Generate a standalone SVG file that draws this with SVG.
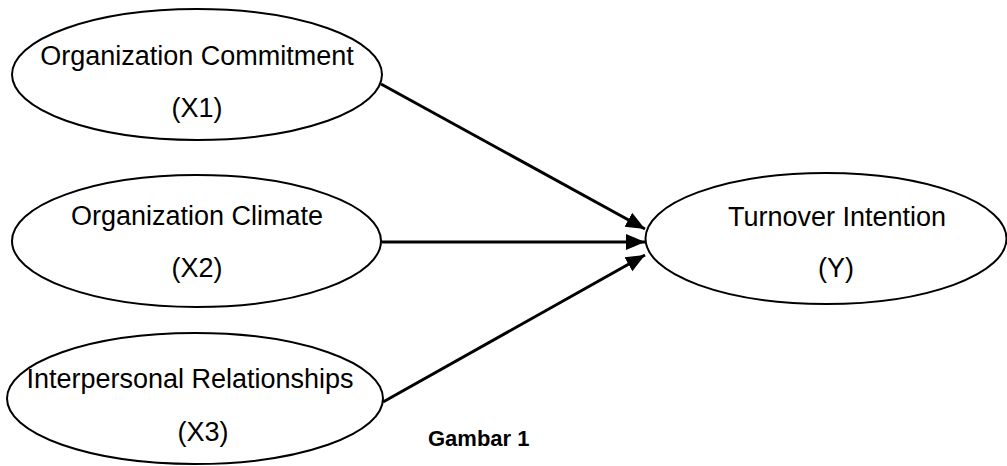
<svg xmlns="http://www.w3.org/2000/svg" width="1007" height="466" viewBox="0 0 1007 466">
  <style>
    .node ellipse { fill: #ffffff; stroke: #000000; stroke-width: 2; }
    .label { font-family: "Liberation Sans", Arial, sans-serif; font-size: 27px; fill: #000000; text-anchor: middle; }
    .edge { stroke: #000000; stroke-width: 3; fill: none; marker-end: url(#arrow); }
    .caption { font-family: "Liberation Sans", Arial, sans-serif; font-size: 22px; font-weight: bold; fill: #000000; }
  </style>
  <defs>
    <marker id="arrow" markerUnits="userSpaceOnUse" markerWidth="20" markerHeight="18" refX="19" refY="9" orient="auto">
      <path d="M0,1 L19,9 L0,17 z" fill="#000000"/>
    </marker>
  </defs>
  <rect width="1007" height="466" fill="#ffffff"/>

  <g id="connectors">
    <line class="edge" x1="381" y1="84" x2="645" y2="229"/>
    <line class="edge" x1="382" y1="242" x2="645" y2="242"/>
    <line class="edge" x1="383" y1="402" x2="645" y2="255"/>
  </g>

  <g id="x1" class="node">
    <ellipse cx="197" cy="74.5" rx="185" ry="65.5"/>
    <text class="label" x="197" y="65">Organization Commitment</text>
    <text class="label" x="197" y="117">(X1)</text>
  </g>

  <g id="x2" class="node">
    <ellipse cx="196.5" cy="241" rx="184.5" ry="66"/>
    <text class="label" x="197" y="225">Organization Climate</text>
    <text class="label" x="197" y="277">(X2)</text>
  </g>

  <g id="x3" class="node">
    <ellipse cx="195" cy="398.5" rx="188" ry="65.5"/>
    <text class="label" x="190" y="388">Interpersonal Relationships</text>
    <text class="label" x="203" y="441">(X3)</text>
  </g>

  <g id="y" class="node">
    <ellipse cx="826" cy="238.5" rx="180.5" ry="65.5"/>
    <text class="label" x="837" y="226">Turnover Intention</text>
    <text class="label" x="836" y="277">(Y)</text>
  </g>

  <text class="caption" x="428" y="446">Gambar 1</text>
</svg>
